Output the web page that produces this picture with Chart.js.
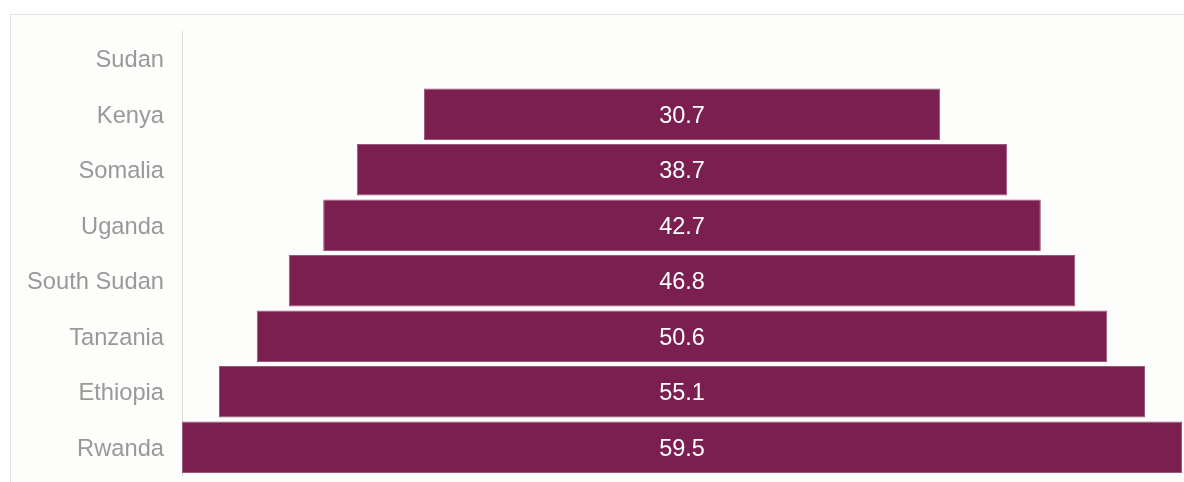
<!DOCTYPE html>
<html>
<head>
<meta charset="utf-8">
<script src="https://cdn.jsdelivr.net/npm/chart.js@4"></script>
<style>
  html, body { margin: 0; padding: 0; background: #ffffff; width: 1184px; height: 482px; overflow: hidden; }
  #card { position: absolute; left: 10px; top: 14px; width: 1300px; height: 600px; border: 1px solid #e3e3e3; background: #fdfdfb; }
  #wrap { position: absolute; left: 0; top: 0; width: 1184px; height: 482px; }
</style>
</head>
<body>
<div id="card"></div>
<div id="wrap"><canvas id="funnelChart" width="1184" height="482"></canvas></div>
<script>
// paises, de arriba hacia abajo
const countries = ['Sudan', 'Kenya', 'Somalia', 'Uganda', 'South Sudan', 'Tanzania', 'Ethiopia', 'Rwanda'];
const values = [null, 30.7, 38.7, 42.7, 46.8, 50.6, 55.1, 59.5];

const maxValue = 59.5;

// barras flotantes centradas en cero
const floating = values.map(v => v === null ? null : [-v / 2, v / 2]);

const valueLabels = {
    id: 'valueLabels',
    afterDatasetsDraw(chart) {
        const ctx = chart.ctx;
        const meta = chart.getDatasetMeta(0);
        ctx.save();
        ctx.fillStyle = '#ffffff';
        ctx.font = '23.5px "Liberation Sans", Arial, sans-serif';
        ctx.textAlign = 'center';
        ctx.textBaseline = 'middle';
        meta.data.forEach((bar, i) => {
            if (values[i] === null) return;
            const p = bar.getProps(['x', 'base', 'y'], true);
            ctx.fillText(values[i].toFixed(1), (p.x + p.base) / 2, p.y + 2);
        });
        ctx.restore();
    }
};

const ctx = document.getElementById('funnelChart').getContext('2d');
new Chart(ctx, {
    type: 'bar',
    data: {
        labels: countries,
        datasets: [{
            data: floating,
            backgroundColor: '#7b1f51',
            borderColor: '#9a587a',
            borderWidth: 1,
            borderSkipped: false,
            barPercentage: 1,
            categoryPercentage: 0.93
        }]
    },
    options: {
        indexAxis: 'y',
        responsive: false,
        animation: false,
        layout: { padding: { top: 31, bottom: 7, left: 0, right: 2 } },
        scales: {
            x: {
                display: false,
                min: -maxValue / 2,
                max: maxValue / 2
            },
            y: {
                grid: { display: false, drawTicks: false },
                border: { display: true, color: '#dcdcdc', width: 1 },
                ticks: {
                    color: '#999999',
                    padding: 18,
                    labelOffset: 2,
                    font: { family: '"Liberation Sans", Arial, sans-serif', size: 23.7 }
                },
                afterFit(scale) {
                    scale.width = 182;
                    scale.paddingTop = 0;
                    scale.paddingBottom = 0;
                }
            }
        },
        plugins: {
            legend: { display: false },
            tooltip: { enabled: false }
        }
    },
    plugins: [valueLabels]
});
</script>
</body>
</html>
